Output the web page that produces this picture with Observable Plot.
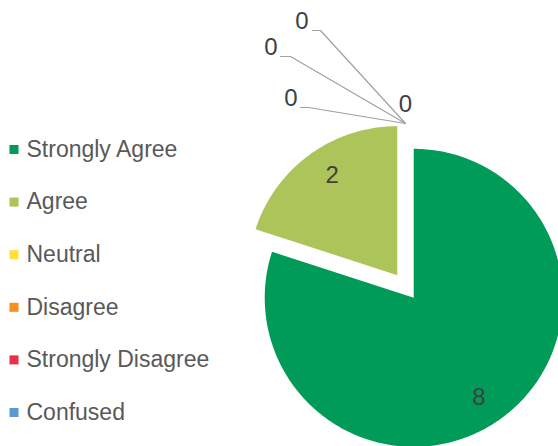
<!DOCTYPE html>
<html>
<head>
<meta charset="utf-8">
<script src="https://cdn.jsdelivr.net/npm/d3@7"></script>
<script src="https://cdn.jsdelivr.net/npm/@observablehq/plot@0.6"></script>
<style>
  html, body { margin: 0; padding: 0; background: #fff; }
  #chart svg { display: block; }
</style>
</head>
<body>
<div id="chart"></div>
<script>
// ---- data ----
const categories = ["Strongly Agree", "Agree", "Neutral", "Disagree", "Strongly Disagree", "Confused"];
const counts = [8, 2, 0, 0, 0, 0];
const colors = ["#009B58", "#ADC45A", "#FFE03F", "#F7901E", "#E8304A", "#5B9BD5"];

// ---- layout (pixels) ----
const W = 558, H = 446;
const CX = 405, CY = 286, R = 149;   // pie centre and radius
const EXPLODE = 14 / R;              // explosion distance (radius units)
const ux = px => (px - CX) / R;
const uy = py => (CY - py) / R;

// pie angles through d3
const arcs = d3.pie().sort(null).value(d => d)(counts);

const slicePts = [];
const valueLabels = [];
const zeroIdx = [];
arcs.forEach((a, i) => {
  const mid = (a.startAngle + a.endAngle) / 2;
  const ox = EXPLODE * Math.sin(mid), oy = EXPLODE * Math.cos(mid);
  if (a.endAngle > a.startAngle) {
    const cat = categories[i];
    slicePts.push({cat, x: ox, y: oy});
    const n = Math.max(2, Math.ceil((a.endAngle - a.startAngle) / (Math.PI / 180)));
    for (let k = 0; k <= n; k++) {
      const t = a.startAngle + (a.endAngle - a.startAngle) * k / n;
      slicePts.push({cat, x: ox + Math.sin(t), y: oy + Math.cos(t)});
    }
    slicePts.push({cat, x: ox, y: oy});
    const lm = mid + 0.05;
    valueLabels.push({x: ox + 0.8 * Math.sin(lm), y: oy + 0.8 * Math.cos(lm), text: String(a.value)});
  } else {
    zeroIdx.push(i);
  }
});

// zero-value labels: Excel-style callouts around the slice tip
const tipX = 0, tipY = 1 + EXPLODE;
// offsets in pixels from tip
const calloutLayout = [
  {lx: 0,    lb: -11, anchor: "middle", line: null},
  {lx: -108, lb: -17, anchor: "end", line: [-97, -105]},
  {lx: -128, lb: -68, anchor: "end", line: [-115, -125]},
  {lx: -97,  lb: -94, anchor: "end", line: [-85, -93]}
];
const zeroLabels = [];
const leaderLines = [];
zeroIdx.forEach((i, k) => {
  const L = calloutLayout[k];
  const tx = tipX, ty = tipY;
  zeroLabels.push({x: tx + L.lx / R, y: ty - (L.lb - 7.7) / R, text: String(counts[i]), anchor: L.anchor});
  if (L.line) {
    const ly = ty - (L.lb + 1) / R;
    leaderLines.push({id: k, x: tx, y: ty});
    leaderLines.push({id: k, x: tx + L.line[0] / R, y: ly});
    leaderLines.push({id: k, x: tx + L.line[1] / R, y: ly});
  }
});

// legend rows
const legendRows = categories.map((c, i) => ({cat: c, x: ux(13.5), tx: ux(26), y: uy(149 + i * 52.6)}));

const font = "'Liberation Sans', Arial, sans-serif";

const chart = Plot.plot({
  width: W,
  height: H,
  margin: 0,
  style: {background: "#fff", fontFamily: font, overflow: "visible"},
  x: {domain: [ux(0), ux(W)], range: [0, W], axis: null},
  y: {domain: [uy(H), uy(0)], range: [H, 0], axis: null},
  color: {domain: categories, range: colors},
  marks: [
    Plot.line(slicePts, {x: "x", y: "y", z: "cat", fill: "cat", stroke: null, curve: "linear-closed"}),
    Plot.line(leaderLines, {x: "x", y: "y", z: "id", stroke: "#A0A0A0", strokeWidth: 1.2}),
    Plot.text(valueLabels, {x: "x", y: "y", text: "text", fill: "#404040", fontSize: 24}),
    Plot.text(zeroLabels.filter(d => d.anchor === "middle"), {x: "x", y: "y", text: "text", fill: "#404040", fontSize: 24, textAnchor: "middle"}),
    Plot.text(zeroLabels.filter(d => d.anchor === "end"), {x: "x", y: "y", text: "text", fill: "#404040", fontSize: 24, textAnchor: "end"}),
    Plot.dot(legendRows, {x: "x", y: "y", fill: "cat", symbol: "square", r: 5.1, stroke: null}),
    Plot.text(legendRows, {x: "tx", y: "y", text: "cat", fill: "#595959", fontSize: 23, textAnchor: "start"})
  ]
});
document.getElementById("chart").appendChild(chart);
</script>
</body>
</html>
